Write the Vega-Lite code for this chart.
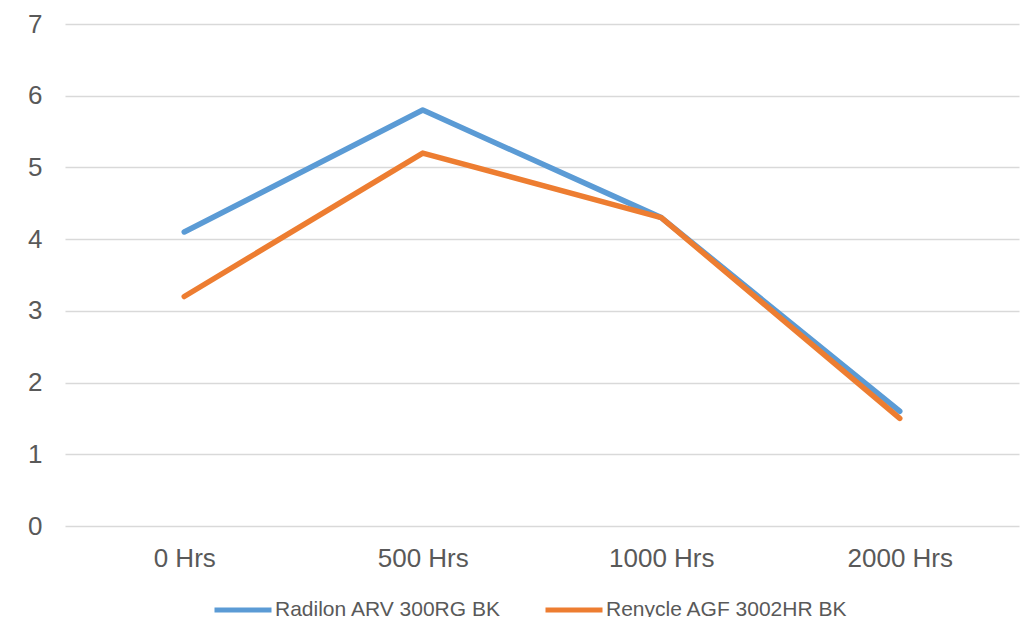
{
  "$schema": "https://vega.github.io/schema/vega-lite/v6.json",
  "autosize": {"type": "none"},
  "width": 954,
  "height": 502,
  "padding": {"left": 65, "top": 24, "right": 1, "bottom": 91},
  "background": "white",
  "config": {
    "font": "Liberation Sans",
    "view": {"stroke": null},
    "axis": {"labelFont": "Liberation Sans", "labelColor": "#595959", "labelFontSize": 26, "domain": false, "ticks": false},
    "legend": {"labelFont": "Liberation Sans", "labelColor": "#595959", "labelFontSize": 21, "labelLimit": 0}
  },
  "data": {
    "values": [
      {"time": "0 Hrs", "series": "Radilon ARV 300RG BK", "value": 4.1},
      {"time": "500 Hrs", "series": "Radilon ARV 300RG BK", "value": 5.8},
      {"time": "1000 Hrs", "series": "Radilon ARV 300RG BK", "value": 4.3},
      {"time": "2000 Hrs", "series": "Radilon ARV 300RG BK", "value": 1.6},
      {"time": "0 Hrs", "series": "Renycle AGF 3002HR BK", "value": 3.2},
      {"time": "500 Hrs", "series": "Renycle AGF 3002HR BK", "value": 5.2},
      {"time": "1000 Hrs", "series": "Renycle AGF 3002HR BK", "value": 4.3},
      {"time": "2000 Hrs", "series": "Renycle AGF 3002HR BK", "value": 1.5}
    ]
  },
  "mark": {"type": "line", "strokeWidth": 5.5, "strokeCap": "round", "strokeJoin": "round"},
  "encoding": {
    "x": {
      "field": "time", "type": "ordinal", "sort": null, "title": null,
      "scale": {"type": "point", "padding": 0.5},
      "axis": {"labelAngle": 0, "labelPadding": 19, "grid": false}
    },
    "y": {
      "field": "value", "type": "quantitative", "title": null,
      "scale": {"domain": [0, 7], "nice": false},
      "axis": {"values": [0, 1, 2, 3, 4, 5, 6, 7], "labelPadding": 23, "grid": true, "gridColor": "#d9d9d9", "gridWidth": 1.5}
    },
    "color": {
      "field": "series", "type": "nominal", "title": null,
      "scale": {"range": ["#5B9BD5", "#ED7D31"]},
      "legend": {
        "orient": "none", "direction": "horizontal", "legendX": 147, "legendY": 555,
        "symbolType": "stroke", "symbolSize": 3249, "symbolStrokeWidth": 5,
        "labelOffset": 1, "columnPadding": 33
      }
    }
  }
}
